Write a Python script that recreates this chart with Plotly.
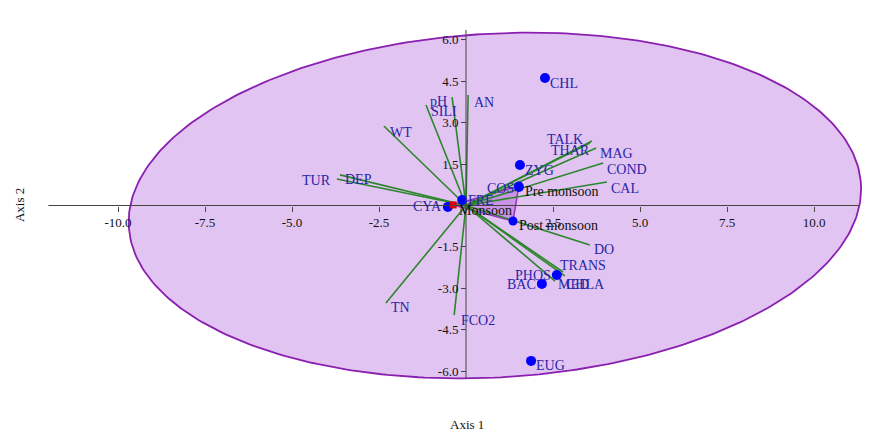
import numpy as np
import plotly.graph_objects as go

# ---- ordination scores -------------------------------------------------
taxa = ["CHL", "ZYG", "COS", "FRE", "CYA", "MED", "BAC", "EUG"]
taxa_x = [2.27, 1.55, 1.52, -0.11, -0.52, 2.61, 2.18, 1.87]
taxa_y = [4.62, 1.47, 0.67, 0.20, -0.05, -2.52, -2.84, -5.63]

seasons = ["Pre monsoon", "Monsoon", "Post monsoon"]
season_x = [1.52, -0.37, 1.35]
season_y = [0.71, 0.02, -0.56]

env_vars = ["WT", "SILI", "pH", "AN", "TUR", "DEP", "TALK", "THAR", "MAG",
            "COND", "CAL", "DO", "TRANS", "CHLA", "PHOS", "TN", "FCO2"]
env_x = [-2.36, -1.15, -0.40, 0.06, -3.71, -3.62, 3.62, 3.56, 3.74,
         3.94, 4.05, 3.56, 2.79, 2.84, 2.56, -2.30, -0.34]
env_y = [2.88, 3.64, 3.93, 4.00, 0.96, 1.11, 2.34, 2.26, 2.08,
         1.54, 0.85, -1.43, -2.41, -2.55, -2.74, -3.53, -3.97]

x_ticks = [-10.0, -7.5, -5.0, -2.5, 2.5, 5.0, 7.5, 10.0]
y_ticks = [-6.0, -4.5, -3.0, -1.5, 1.5, 3.0, 4.5, 6.0]

# 95% ellipse: centre, semi-axes, rotation (degrees)
ell_cx, ell_cy = 0.83, 0.0
ell_a, ell_b, ell_rot = 10.55, 6.22, 5.0

# ---- label placement (anchor side, pixel shifts) -----------------------
taxa_lab = {
    "CHL": ("left", 3, -6), "ZYG": ("left", 3, -6), "COS": ("right", -3, -1),
    "FRE": ("left", 4, -1), "CYA": ("right", -4, 0), "MED": ("left", -1, -9),
    "BAC": ("right", -4, -1), "EUG": ("left", 3, -5),
}
season_lab = {
    "Pre monsoon": ("left", 4, -6), "Monsoon": ("left", 4, -6),
    "Post monsoon": ("left", 4, -5),
}
env_lab = {
    "WT": ("left", 4, -6), "SILI": ("left", 3, -6), "pH": ("right", -3, -4),
    "AN": ("left", 4, -7), "TUR": ("right", -4, -1), "DEP": ("left", 3, -5),
    "TALK": ("right", -7, 1), "THAR": ("right", 2, -7), "MAG": ("left", 2, -5),
    "COND": ("left", 2, -6), "CAL": ("left", 2, -6), "DO": ("left", 2, -5),
    "TRANS": ("left", -5, 7), "CHLA": ("left", -1, -9), "PHOS": ("right", -2, 6),
    "TN": ("left", 3, -5), "FCO2": ("left", 5, -5),
}

SERIF = "Liberation Serif, Times New Roman, serif"
LABEL_BLUE = "#2626a6"
GREEN = "#2b862b"

fig = go.Figure()

# concentration ellipse
t = np.linspace(0, 2 * np.pi, 361)
r = np.deg2rad(ell_rot)
ex = ell_cx + ell_a * np.cos(t) * np.cos(r) - ell_b * np.sin(t) * np.sin(r)
ey = ell_cy + ell_a * np.cos(t) * np.sin(r) + ell_b * np.sin(t) * np.cos(r)
fig.add_trace(go.Scatter(x=ex, y=ey, mode="lines", fill="toself",
                         fillcolor="rgb(226,196,242)",
                         line=dict(color="#8a1fb0", width=1.8),
                         hoverinfo="skip", showlegend=False))

# convex hull of the season samples
fig.add_trace(go.Scatter(x=season_x + [season_x[0]], y=season_y + [season_y[0]],
                         mode="lines", fill="toself",
                         fillcolor="rgba(170,90,210,0.45)",
                         line=dict(color="#9a2fc0", width=1.5),
                         hoverinfo="skip", showlegend=False))

# axis lines through the origin
fig.add_shape(type="line", x0=-12.0, x1=11.3, y0=0, y1=0,
              line=dict(color="#444444", width=1))
fig.add_shape(type="line", x0=0, x1=0, y0=-6.28, y1=6.36,
              line=dict(color="#444444", width=1))

# environmental vectors
vx, vy = [], []
for x, y in zip(env_x, env_y):
    vx += [0, x, None]
    vy += [0, y, None]
fig.add_trace(go.Scatter(x=vx, y=vy, mode="lines",
                         line=dict(color=GREEN, width=1.6),
                         hoverinfo="skip", showlegend=False))

# taxa and samples
fig.add_trace(go.Scatter(x=taxa_x, y=taxa_y, mode="markers",
                         marker=dict(color="#0000ff", size=10),
                         text=taxa, showlegend=False))
fig.add_trace(go.Scatter(x=[season_x[0], season_x[2]], y=[season_y[0], season_y[2]],
                         mode="markers", marker=dict(color="#0000ff", size=9),
                         showlegend=False))
fig.add_trace(go.Scatter(x=[season_x[1]], y=[season_y[1]], mode="markers",
                         marker=dict(color="#e00000", size=7, symbol="square"),
                         showlegend=False))


def add_label(x, y, text, spec, color):
    side, dx, dy = spec
    fig.add_annotation(x=x, y=y, text=text, showarrow=False,
                       xanchor=side, yanchor="middle", xshift=dx, yshift=dy,
                       font=dict(family=SERIF, size=14, color=color))


for n, x, y in zip(taxa, taxa_x, taxa_y):
    add_label(x, y, n, taxa_lab[n], LABEL_BLUE)
for n, x, y in zip(env_vars, env_x, env_y):
    add_label(x, y, n, env_lab[n], LABEL_BLUE)
for n, x, y in zip(seasons, season_x, season_y):
    add_label(x, y, n, season_lab[n], "#111111")

# axis titles
fig.add_annotation(x=0.5265, y=0.0, xref="paper", yref="paper", text="Axis 1",
                   showarrow=False, yanchor="bottom", yshift=-3,
                   font=dict(family=SERIF, size=13, color="#111111"))
fig.add_annotation(x=0.0, y=0.523, xref="paper", yref="paper", text="Axis 2",
                   showarrow=False, textangle=-90, xanchor="left", xshift=10,
                   font=dict(family=SERIF, size=13, color="#111111"))

W, H = 887, 431
x0_px, y0_px = 466.0, 205.5
sx, sy = 34.8, 27.6

fig.update_layout(
    width=W, height=H,
    margin=dict(l=0, r=0, t=0, b=0),
    paper_bgcolor="white", plot_bgcolor="white",
    showlegend=False,
    xaxis=dict(range=[-x0_px / sx, (W - x0_px) / sx],
               anchor="free", position=(H - y0_px) / H,
               showgrid=False, zeroline=False, showline=False,
               ticks="outside", ticklen=5, tickcolor="#444444",
               tickvals=x_ticks, ticktext=[f"{v:.1f}" for v in x_ticks],
               tickfont=dict(family=SERIF, size=13, color="#111111")),
    yaxis=dict(range=[-(H - y0_px) / sy, y0_px / sy],
               anchor="free", position=x0_px / W,
               showgrid=False, zeroline=False, showline=False,
               ticks="outside", ticklen=5, tickcolor="#444444",
               tickvals=y_ticks, ticktext=[f"{v:.1f}" for v in y_ticks],
               tickfont=dict(family=SERIF, size=13, color="#111111")),
)

fig.write_html("out.html")
